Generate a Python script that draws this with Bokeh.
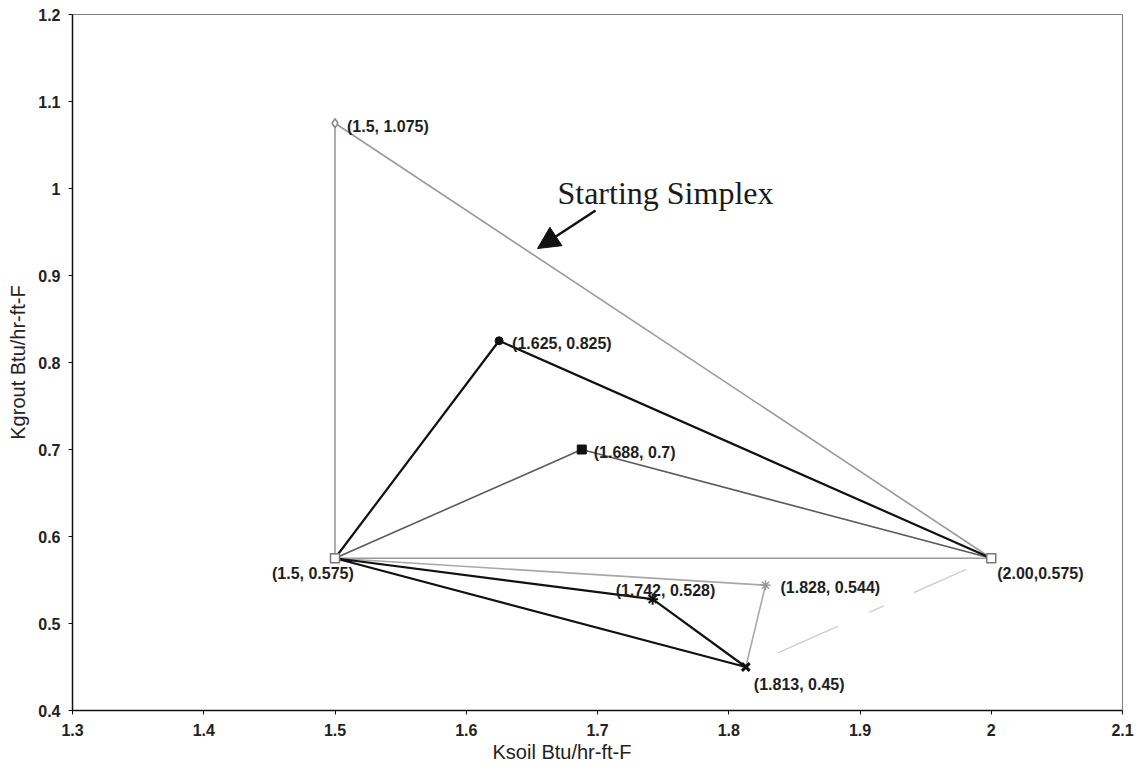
from bokeh.plotting import figure
from bokeh.models import (ColumnDataSource, FixedTicker, NumeralTickFormatter,
                          Arrow, NormalHead, Label, Title)
from bokeh.embed import file_html
from bokeh.resources import INLINE
from bokeh.core.properties import value

# Simplex vertices (Ksoil, Kgrout) for each iteration
start_x = [1.5, 2.0, 1.5, 1.5]
start_y = [1.075, 0.575, 0.575, 1.075]

iter1_x = [1.5, 1.625, 2.0]
iter1_y = [0.575, 0.825, 0.575]

iter2_x = [1.5, 1.688, 2.0]
iter2_y = [0.575, 0.7, 0.575]

iter3_x = [1.5, 1.828, 1.813]
iter3_y = [0.575, 0.544, 0.45]

iter4_x = [1.5, 1.742, 1.813, 1.5]
iter4_y = [0.575, 0.528, 0.45, 0.575]

link_x = [1.813, 2.0]
link_y = [0.45, 0.575]

# Annotated vertices
pt_x = [1.5, 1.625, 1.688, 1.5, 1.742, 1.828, 2.0, 1.813]
pt_y = [1.075, 0.825, 0.7, 0.575, 0.528, 0.544, 0.575, 0.45]
pt_text = ["(1.5, 1.075)", "(1.625, 0.825)", "(1.688, 0.7)", "(1.5, 0.575)",
           "(1.742, 0.528)", "(1.828, 0.544)", "(2.00,0.575)", "(1.813, 0.45)"]

x_ticks = [1.3, 1.4, 1.5, 1.6, 1.7, 1.8, 1.9, 2.0, 2.1]
y_ticks = [0.4, 0.5, 0.6, 0.7, 0.8, 0.9, 1.0, 1.1, 1.2]

x_title = "Ksoil Btu/hr-ft-F"
y_title = "Kgrout Btu/hr-ft-F"

# label placement in screen pixels relative to each vertex
lab_dx = [12, 13, 12, -63, -37, 15, 6, 8]
lab_dy = [3, 3, 3, 15, -9, 2, 15, 17]

p = figure(width=1143, height=770, output_backend="svg", toolbar_location=None,
           x_range=(1.3, 2.1), y_range=(0.4, 1.2),
           min_border_left=72, min_border_right=21, min_border_top=14,
           min_border_bottom=60)
p.background_fill_color = "white"
p.border_fill_color = "white"
p.outline_line_color = "#808080"
p.outline_line_width = 1
p.xgrid.visible = False
p.ygrid.visible = False

FONT = value("Liberation Sans")

for ax, ticks in ((p.xaxis[0], x_ticks), (p.yaxis[0], y_ticks)):
    ax.ticker = FixedTicker(ticks=ticks)
    ax.formatter = NumeralTickFormatter(format="0.[0]")
    ax.axis_line_color = "#111111"
    ax.axis_line_width = 1.5
    ax.major_tick_line_color = "#111111"
    ax.major_tick_in = 0
    ax.major_tick_out = 4
    ax.minor_tick_line_color = None
    ax.major_label_text_font = "Liberation Sans"
    ax.major_label_text_font_style = "bold"
    ax.major_label_text_font_size = "16px"
    ax.major_label_text_color = "#222222"
    ax.axis_label_text_font = "Liberation Sans"
    ax.axis_label_text_font_style = "normal"
    ax.axis_label_text_font_size = "20px"
    ax.axis_label_text_color = "#222222"

p.yaxis.axis_label = y_title
p.xaxis.major_label_standoff = 9
p.yaxis.major_label_standoff = 8
p.yaxis.axis_label_standoff = 6

# x title sits left of the frame centre, below the tick labels
p.add_layout(Title(text=x_title, align="left", offset=420, standoff=0,
                   text_font="Liberation Sans", text_font_size="20px",
                   text_font_style="normal", text_color="#222222"), "below")

# faint dashed connector
p.line(link_x, link_y, line_color="#d0d0d0", line_width=1.5,
       line_dash="0 35 66 34 16 33 57 100")

# starting simplex
p.line(start_x, start_y, line_color="#9a9a9a", line_width=1.6)
# later iterations
p.line(iter2_x, iter2_y, line_color="#5a5a5a", line_width=1.6)
p.line(iter1_x, iter1_y, line_color="#111111", line_width=2.2)
p.line(iter3_x, iter3_y, line_color="#a8a8a8", line_width=1.6)
p.line(iter4_x, iter4_y, line_color="#111111", line_width=2.2)

# vertex markers
p.scatter([start_x[0]], [start_y[0]], marker="diamond", size=9,
          fill_color="white", line_color="#8a8a8a", line_width=1.5)
p.scatter([start_x[1], start_x[2]], [start_y[1], start_y[2]], marker="square",
          size=9, fill_color="white", line_color="#777777", line_width=1.5)
p.scatter([iter1_x[1]], [iter1_y[1]], marker="circle", size=8,
          fill_color="#111111", line_color="#111111")
p.scatter([iter2_x[1]], [iter2_y[1]], marker="square", size=9,
          fill_color="#111111", line_color="#111111")
p.scatter([iter3_x[1]], [iter3_y[1]], marker="asterisk", size=10,
          line_color="#999999", line_width=1.5)
p.scatter([iter4_x[1]], [iter4_y[1]], marker="asterisk", size=11,
          line_color="#111111", line_width=2)
p.scatter([iter4_x[2]], [iter4_y[2]], marker="x", size=11,
          line_color="#111111", line_width=3)

lab_src = ColumnDataSource(dict(x=pt_x, y=pt_y, text=pt_text,
                                dx=lab_dx, dy=lab_dy))
p.text(x="x", y="y", text="text", x_offset="dx", y_offset="dy",
       source=lab_src, text_font=FONT, text_font_style="bold",
       text_font_size="16px", text_color="#1e1e1e",
       text_align="left", text_baseline="middle")

# annotation for the first simplex
p.add_layout(Label(x=1.6695, y=0.9954, text="Starting Simplex",
                   text_font="Liberation Serif", text_font_size="32px",
                   text_color="#1a1a1a", text_align="left",
                   text_baseline="alphabetic"))
p.add_layout(Arrow(end=NormalHead(size=22, fill_color="#111111",
                                  line_color="#111111"),
                   x_start=1.6985, y_start=0.9747, x_end=1.6543, y_end=0.931,
                   line_color="#111111", line_width=2.5))

open("out.html", "w").write(file_html(p, INLINE))
